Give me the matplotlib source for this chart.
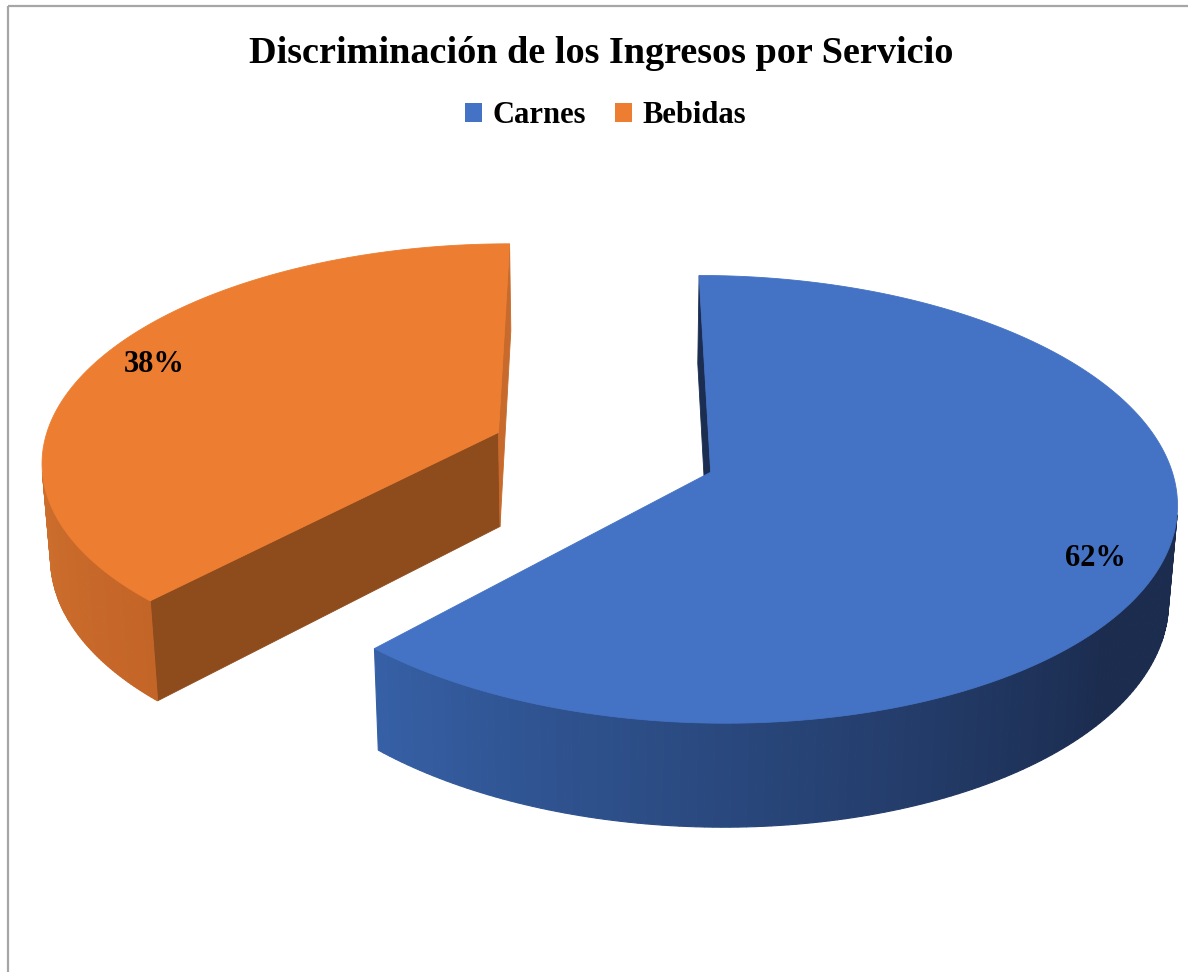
import numpy as np
import matplotlib
matplotlib.use("Agg")
import matplotlib.pyplot as plt
from matplotlib.patches import Polygon, Rectangle, Patch

# ---------------- data ----------------
categories = ["Carnes", "Bebidas"]
values = [62, 38]
pct_labels = ["62%", "38%"]
title = "Discriminación de los Ingresos por Servicio"

# ---------------- style ----------------
top_colors = ["#4472C4", "#ED7D31"]
side_light = [(54, 96, 166), (207, 113, 46)]
side_dark = [(27, 44, 79), (196, 101, 40)]
start_face_colors = ["#1B2D50", "#8E4B1C"]
end_face_colors = ["#1B2D50", "#C86A2B"]
label_offsets = [(1.1, -15.8), (-2.9, -2.0)]   # points

# view settings (3-D look)
ELEV = np.deg2rad(28.2)
DIST = 7.345
FOCAL = 3353.0
X0, Y0 = 603.4, 452.1
EXPLODE = 0.25
HEIGHT = 0.239
LABEL_R = 0.85

s, c = np.sin(ELEV), np.cos(ELEV)
cam = np.array([0.0, -DIST * c, DIST * s])


def proj(x, y, z):
    x = np.asarray(x, float)
    y = np.asarray(y, float)
    z = np.asarray(z, float)
    depth = DIST + y * c - z * s
    sx = X0 + FOCAL * x / depth
    sy = Y0 - FOCAL * (y * s + z * c) / depth
    return sx, sy


def mix(a, b, t):
    return tuple((a[i] + (b[i] - a[i]) * t) / 255.0 for i in range(3))


plt.rcParams["font.family"] = ["Liberation Serif", "DejaVu Serif"]
fig = plt.figure(figsize=(11.88, 9.72), dpi=100)
ax = fig.add_axes([0, 0, 1, 1])
ax.set_xlim(0, 1188)
ax.set_ylim(972, 0)
ax.axis("off")

# chart border
ax.add_patch(Rectangle((8, 6), 1200, 1000, fill=False, edgecolor="#A6A6A6",
                       lw=1.6, zorder=0))

total = float(sum(values))
bounds = np.concatenate([[0.0], np.cumsum(values) / total * 360.0])

slices = []
for i in range(len(values)):
    t0, t1 = bounds[i], bounds[i + 1]
    mid = np.deg2rad((t0 + t1) / 2)
    cx, cy = EXPLODE * np.sin(mid), EXPLODE * np.cos(mid)
    slices.append((i, t0, t1, mid, cx, cy))

# paint far slices first
slices.sort(key=lambda t: -t[5])

for (i, t0, t1, mid, cx, cy) in slices:
    zo = 2 if cy > 0 else 5
    th = np.deg2rad(np.linspace(t0, t1, 240))
    rx, ry = cx + np.sin(th), cy + np.cos(th)

    # radial faces
    for tt, normal, col in (
        (np.deg2rad(t0), np.array([-np.cos(np.deg2rad(t0)), np.sin(np.deg2rad(t0)), 0]), start_face_colors[i]),
        (np.deg2rad(t1), np.array([np.cos(np.deg2rad(t1)), -np.sin(np.deg2rad(t1)), 0]), end_face_colors[i]),
    ):
        ex, ey = cx + np.sin(tt), cy + np.cos(tt)
        P = np.array([(cx + ex) / 2, (cy + ey) / 2, -HEIGHT / 2])
        if np.dot(normal, cam - P) > 0:
            xs = [cx, ex, ex, cx]
            ys = [cy, ey, ey, cy]
            zs = [0, 0, -HEIGHT, -HEIGHT]
            px, py = proj(xs, ys, zs)
            ax.add_patch(Polygon(np.c_[px, py], closed=True, facecolor=col,
                                 edgecolor=col, lw=0.6, zorder=zo))

    # outer curved side
    span_lo, span_hi = (130.0, 223.2) if i == 0 else (223.2, 270.0)
    for k in range(len(th) - 1):
        tm = (th[k] + th[k + 1]) / 2
        n = np.array([np.sin(tm), np.cos(tm), 0.0])
        P = np.array([cx + np.sin(tm), cy + np.cos(tm), -HEIGHT / 2])
        if np.dot(n, cam - P) <= 0:
            continue
        deg = np.rad2deg(tm)
        t = np.clip((deg - span_lo) / (span_hi - span_lo), 0, 1)
        if i == 0:
            col = mix(side_dark[i], side_light[i], t)
        else:
            col = mix(side_dark[i], side_light[i], t)
        xs = [rx[k], rx[k + 1], rx[k + 1], rx[k]]
        ys = [ry[k], ry[k + 1], ry[k + 1], ry[k]]
        zs = [0, 0, -HEIGHT, -HEIGHT]
        px, py = proj(xs, ys, zs)
        ax.add_patch(Polygon(np.c_[px, py], closed=True, facecolor=col,
                             edgecolor=col, lw=0.8, zorder=zo))

    # top face
    px, py = proj(np.r_[cx, rx], np.r_[cy, ry], np.zeros(len(rx) + 1))
    ax.add_patch(Polygon(np.c_[px, py], closed=True, facecolor=top_colors[i],
                         edgecolor=top_colors[i], lw=0.6, zorder=zo + 1))

    # percentage label
    lx, ly = proj(cx + LABEL_R * np.sin(mid), cy + LABEL_R * np.cos(mid), 0.0)
    ax.annotate(pct_labels[i], (float(lx), float(ly)), xytext=label_offsets[i],
                textcoords="offset points", ha="center", va="baseline",
                fontsize=22, fontweight="bold", color="black", zorder=10)

# title
ax.text(601.5, 63, title, ha="center", va="baseline", fontsize=27.5,
        fontweight="bold", color="black")

# legend
handles = [Patch(facecolor=top_colors[i], edgecolor="none") for i in range(len(categories))]
leg = ax.legend(handles, categories, loc="center", bbox_to_anchor=(0.510, 0.8807),
                ncol=2, frameon=False, handlelength=0.55, handleheight=0.55,
                handletextpad=0.35, columnspacing=0.95,
                prop={"family": "Liberation Serif", "weight": "bold", "size": 22})

fig.savefig("out.png", dpi=100)
